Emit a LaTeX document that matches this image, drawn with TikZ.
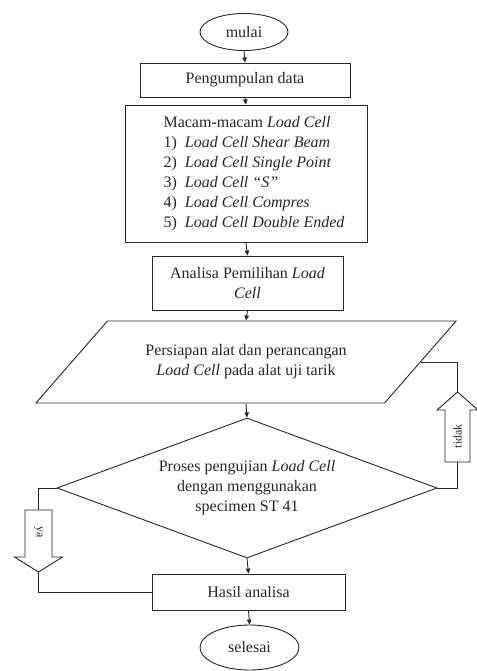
\documentclass[tikz,border=0pt]{standalone}
\usepackage{fontspec}
\setmainfont{Liberation Serif}
\usetikzlibrary{shapes.geometric,arrows.meta}
\begin{document}
\begin{tikzpicture}[x=1pt,y=-1pt,line width=0.9pt,color=black!85,
    every node/.style={font=\fontsize{16}{20}\selectfont},
    term/.style={draw,ellipse,inner sep=0pt},
    box/.style={draw,rectangle,inner sep=2pt},
    flow/.style={-{Triangle[length=5pt,width=4.5pt]}},
    blockarrow/.style={draw,fill=white},
    tag/.style={font=\fontsize{12}{14}\selectfont}]
    \useasboundingbox (0,0) rectangle (476,671);
    % Main column
    \node[term,minimum width=88,minimum height=37] (start) at (244,32) {mulai};
    \node[box,minimum width=210,minimum height=34] (collect) at (245,80) {Pengumpulan data};
    \node[box,minimum width=242,minimum height=137] (types) at (246,173.5)
        {\hspace*{16pt}\begin{tabular}{@{}l@{}}
        Macam-macam \textit{Load Cell}\\
        1)\enspace\textit{Load Cell Shear Beam}\\
        2)\enspace\textit{Load Cell Single Point}\\
        3)\enspace\textit{Load Cell ``S''}\\
        4)\enspace\textit{Load Cell Compres}\\
        5)\enspace\textit{Load Cell Double Ended}
        \end{tabular}};
    \node[box,minimum width=191,minimum height=54,align=center] (choose) at (247.5,283)
        {Analisa Pemilihan \textit{Load}\\\textit{Cell}};
    \node[draw,trapezium,trapezium left angle=37.5,trapezium right angle=142.5,
        trapezium stretches=true,minimum width=422,minimum height=82,align=center]
        (prep) at (246,362) {Persiapan alat dan perancangan\\\textit{Load Cell} pada alat uji tarik};
    \node[draw,diamond,aspect=2.7,minimum width=380,minimum height=140,inner sep=0pt,align=center]
        (test) at (247,488) {Proses pengujian \textit{Load Cell}\\dengan menggunakan\\specimen ST 41};
    \node[box,minimum width=193,minimum height=36] (result) at (248.5,592) {Hasil analisa};
    \node[term,minimum width=99,minimum height=45] (stop) at (249.5,647.5) {selesai};
    \draw[flow] (start.south) -- (collect.north);
    \draw[flow] (collect.south) -- (types.north);
    \draw[flow] (types.south) -- (choose.north);
    \draw[flow] (choose.south) -- (prep.north);
    \draw[flow] (prep.south) -- (test.north);
    \draw[flow] (test.south) -- (result.north);
    \draw[flow] (result.south) -- (stop.north);
    % Block arrow: tidak
    \coordinate (noTail) at (457.5,462);
    \coordinate (noTip) at (457.5,392);
    \draw[blockarrow] (445,462) -- (445,410) -- (437,410) -- (noTip) -- (478,410)
        -- (470,410) -- (470,462) -- cycle;
    \node[tag,rotate=90] (no) at (457.5,436) {tidak};
    \draw (test.east) -| (noTail);
    \draw (noTip) |- (prep.east);
    % Block arrow: ya
    \coordinate (yesTail) at (38.5,510);
    \coordinate (yesTip) at (38.5,572);
    \draw[blockarrow] (25,510) -- (25,557) -- (14.5,557) -- (yesTip) -- (62.5,557)
        -- (52,557) -- (52,510) -- cycle;
    \node[tag,rotate=-90] (yes) at (38.5,532) {ya};
    \draw (test.west) -| (yesTail);
    \draw (yesTip) |- (result.west);
\end{tikzpicture}
\end{document}
